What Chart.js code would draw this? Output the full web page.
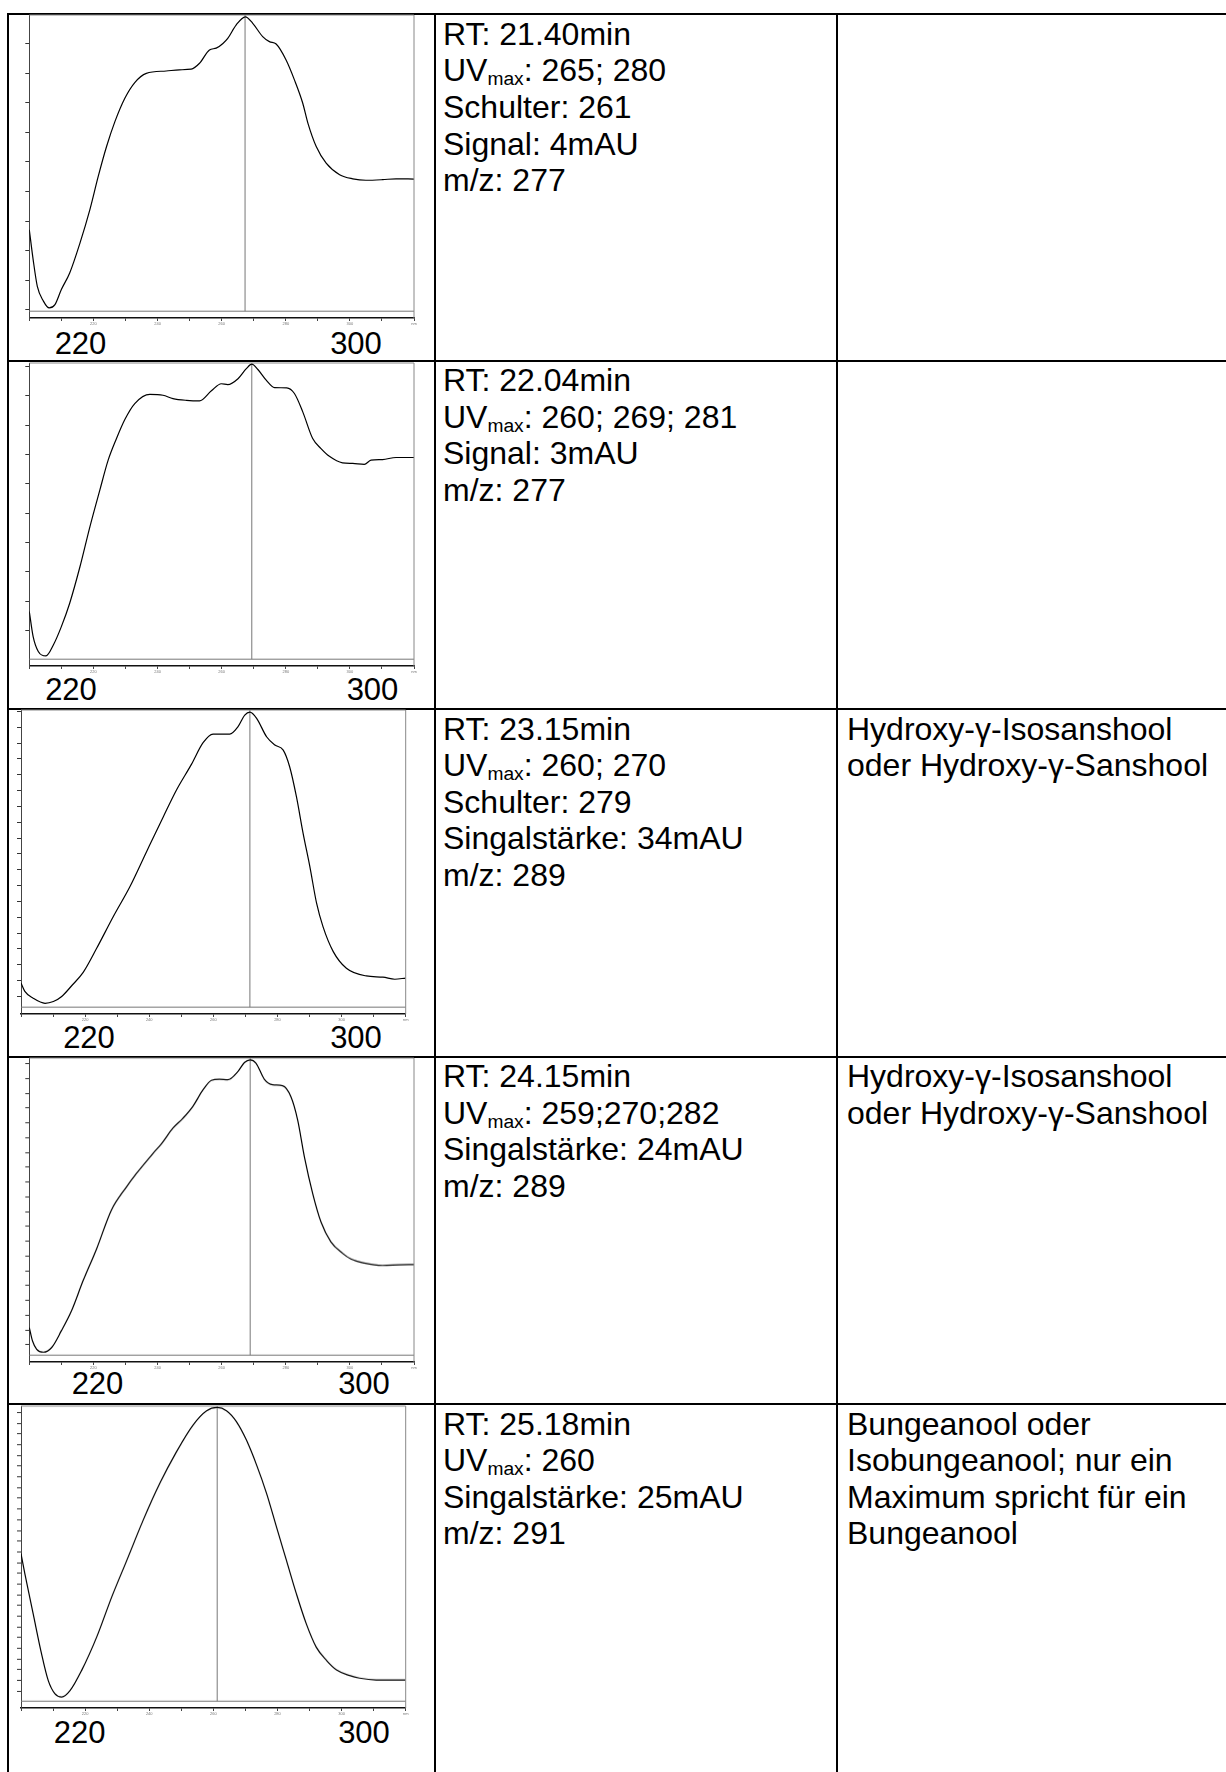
<!DOCTYPE html>
<html><head><meta charset="utf-8">
<script src="https://cdn.jsdelivr.net/npm/chart.js@4.4.1/dist/chart.umd.min.js"></script>
<style>
html,body{margin:0;padding:0;background:#fff;overflow:hidden;}
body{width:1226px;height:1772px;position:relative;font-family:"Liberation Sans",Arial,Helvetica,sans-serif;color:#000;}
.hl{position:absolute;height:2px;background:#000;}
.vl{position:absolute;width:2px;background:#000;}
.txt{position:absolute;font-size:32px;line-height:36.6px;white-space:nowrap;}
.big{position:absolute;font-size:31px;line-height:31px;transform:translate(-50%,-50%);white-space:nowrap;}
canvas{position:absolute;}
sub{font-size:0.6em;line-height:0;vertical-align:-0.22em;}
</style></head>
<body>
<script>
// ---------- DATA ----------
// Spectrum 1 (RT 21.40 min): wavelength (nm) and relative absorbance (%)
const spec1Nm  = [200,201.2,202.5,204.4,206.2,208,210,212.6,215.8,218.9,221.5,224.1,226.7,229.8,232.9,236.5,242.7,246.8,250.5,253.1,256.2,258.3,260.4,261.9,264.5,267.4,269.7,272.8,274.9,277,280.1,282.7,285.3,286.9,289.5,292.6,296.8,300.9,305,310.2,314.4,320];
const spec1Abs = [27.5,17.4,8.4,3.4,1.1,2.2,7.3,12.9,23,34.3,45.5,55.6,64,71.9,77.2,80.3,81.1,81.5,81.7,83.7,88.2,88.8,90.4,92.1,96.6,99.4,97.2,92.7,91,90.2,84.8,78.1,70.2,63.5,55.6,50,46.1,44.7,44.2,44.4,44.7,44.6];
// Spectrum 2 (RT 22.04 min)
const spec2Nm  = [200,201.2,202.8,205.2,207.5,210,212.6,215.8,218.9,222,224.6,227.2,229.8,232.9,237.6,241.7,244.8,249,253.1,256.8,259.9,261.9,265.1,267.7,269.4,271.3,273.9,276.5,280.3,282.7,285.3,288.4,291,293.6,297.7,300.9,304.5,306.6,310.2,314.4,320];
const spec2Abs = [16.1,7.6,2.6,1.1,4.8,11,18.9,31.2,44.7,57.1,67.2,74.5,80.9,86.3,89.4,89.1,88,87.4,87.2,90.6,93,92.7,94.7,98.1,99.6,97.8,94.2,91.7,91.6,89.7,83.5,74.5,71.1,68.5,66.3,66.1,65.8,67.2,67.4,68.1,68.1];
// Spectrum 3 (RT 23.15 min)
const spec3Nm  = [200,201.2,203.8,207.5,210.1,212.7,215.8,219.4,223.6,228.8,234,239.2,244.4,248.5,253.2,256.8,259.9,265.1,267.7,269.8,271.4,273.5,276.6,279.2,281.8,283.8,285.9,288,290.1,292.2,294.2,297.4,301.5,307.7,312.9,316.6,320];
const spec3Abs = [8.1,5.3,3,1.3,1.9,3.6,7.2,11.7,19.8,30.5,40.6,52.4,64.1,73.1,81.8,89,91.9,91.9,94.4,98.3,99.3,97.2,91,88.2,86.5,80.9,70.9,58.5,47.3,35,27.1,18.7,13.1,10.5,10.1,9.4,9.8];
// Spectrum 4 (RT 24.15 min)
const spec4Nm  = [200,201,202.3,204.4,207,210,213.2,216.8,221,225.6,230.3,233.4,238.6,241.2,244.8,247.9,251,254.2,256.8,259.3,261.9,265.1,267.1,268.9,270.7,273.3,275.9,279,281.6,283.7,285.8,288.4,291,294.1,297.7,300.3,304.5,310.2,315.4,320];
const spec4Abs = [9.3,4.8,2,1,2.6,8.2,15,25.1,35.8,48.8,56.6,61.1,67.9,71.1,76.4,79.7,83.7,89.3,92.5,92.9,92.7,95.5,98.5,99.4,98.3,92.9,91,90.7,87,79.2,66.8,54.4,44.8,38.1,34.3,32.4,31,30.2,30.4,30.5];
// Spectrum 5 (RT 25.18 min)
const spec5Nm  = [200,201.2,203.8,206.4,208.5,210.6,212.7,215.3,218.9,223.6,228.3,233,238.1,243.3,248.5,253.7,257.9,261.2,264.1,267.2,270.3,273.5,276.6,279.7,282.8,285.9,289,292.1,295.3,298.4,302.5,305.6,310.8,320];
const spec5Abs = [50,43.2,29.6,16.1,7,2.5,1.4,3.6,10.4,21.7,35.3,47.7,61.3,73.8,84.5,93.6,98.4,99.5,98.4,94.7,88.5,80,70.4,59,47.7,36.4,26.2,18.3,13.8,10.6,8.7,7.8,7.2,7.2];
// Cursor line (marked maximum) per spectrum, nm
const peakNm = [267.3, 269.4, 271.4, 268.9, 261.2];
// Axis tick labels
const xTickLabels = {220:'220', 240:'240', 260:'260', 280:'280', 300:'300', 320:'nm'};
const bigAxisLabels = ['220', '300'];
// Y tick mark positions (relative units)
const yTickStart = [0.5, 9.6, 3.6, 3.5, 3.4];
const yTickStep  = [9.98, 9.92, 5.33, 4.98, 3.63];
// Table text
const col2Lines = [
  ['RT: 21.40min','UV<sub>max</sub>: 265; 280','Schulter: 261','Signal: 4mAU','m/z: 277'],
  ['RT: 22.04min','UV<sub>max</sub>: 260; 269; 281','Signal: 3mAU','m/z: 277'],
  ['RT: 23.15min','UV<sub>max</sub>: 260; 270','Schulter: 279','Singalstärke: 34mAU','m/z: 289'],
  ['RT: 24.15min','UV<sub>max</sub>: 259;270;282','Singalstärke: 24mAU','m/z: 289'],
  ['RT: 25.18min','UV<sub>max</sub>: 260','Singalstärke: 25mAU','m/z: 291']
];
const col3Lines = [
  [],
  [],
  ['Hydroxy-γ-Isosanshool','oder Hydroxy-γ-Sanshool'],
  ['Hydroxy-γ-Isosanshool','oder Hydroxy-γ-Sanshool'],
  ['Bungeanool oder','Isobungeanool; nur ein','Maximum spricht für ein','Bungeanool']
];

// ---------- LAYOUT ----------
const rowTops = [14.3, 360.7, 709, 1056.7, 1404];
const colX = [8.3, 435, 837.3];
const plotLeft = [29.3, 29.3, 21, 29.3, 21];
const plotTop = [15, 362.7, 710, 1058.3, 1406];
const plotBottom = [318.3, 666, 1014, 1361.7, 1707.7];
const plotWidth = 384.7;
const bigPos = [
  [[80.5,342.5],[356,342.5]],
  [[71,689],[372.5,689]],
  [[89,1036.5],[356,1036.5]],
  [[97.5,1383.3],[364,1383.3]],
  [[79.7,1731.5],[364,1731.5]]
];

function el(tag, cls, css, html){
  const e = document.createElement(tag);
  if (cls) e.className = cls;
  Object.assign(e.style, css);
  if (html !== undefined) e.innerHTML = html;
  document.body.appendChild(e);
  return e;
}
// table lines (pixel aligned)
rowTops.forEach(t => el('div','hl',{left:Math.round(colX[0]-1)+'px', top:Math.round(t-1)+'px', width:'1240px'}));
colX.forEach(x => el('div','vl',{left:Math.round(x-1)+'px', top:Math.round(rowTops[0]-1)+'px', height:'1800px'}));
// texts
rowTops.forEach((t,i) => {
  el('div','txt',{left:'443px', top:(t+1.5)+'px'}, col2Lines[i].join('<br>'));
  if (col3Lines[i].length) el('div','txt',{left:'847px', top:(t+1.5)+'px'}, col3Lines[i].join('<br>'));
  bigPos[i].forEach((p,k) => el('div','big',{left:p[0]+'px', top:p[1]+'px'}, bigAxisLabels[k]));
});

const framePlugin = {
  id: 'frame',
  afterDatasetsDraw(chart){
    const {ctx, chartArea:a, scales:{y}} = chart;
    const y0 = y.getPixelForValue(0);
    ctx.save();
    ctx.lineWidth = 1;
    ctx.strokeStyle = '#777';
    ctx.beginPath(); ctx.moveTo(a.left, y0); ctx.lineTo(a.right, y0); ctx.stroke();
    ctx.strokeStyle = '#888';
    ctx.beginPath(); ctx.moveTo(a.left, a.top); ctx.lineTo(a.right, a.top); ctx.lineTo(a.right, a.bottom); ctx.stroke();
    ctx.restore();
  }
};

const specs = [[spec1Nm,spec1Abs],[spec2Nm,spec2Abs],[spec3Nm,spec3Abs],[spec4Nm,spec4Abs],[spec5Nm,spec5Abs]];
const X_AXIS_H = 12, Y_AXIS_W = 4, PAD_TOP = 3;
specs.forEach(([nm, abs], i) => {
  const cw = 420, cl = 10;
  const h = PAD_TOP + (plotBottom[i] - plotTop[i]) + X_AXIS_H;
  const cv = el('canvas', '', {left: cl+'px', top: (plotTop[i]-PAD_TOP)+'px', width: cw+'px', height: h+'px'});
  cv.width = cw; cv.height = h;
  const padL = plotLeft[i] - cl - Y_AXIS_W;
  const padR = cl + cw - (plotLeft[i] + plotWidth);
  new Chart(cv, {
    type: 'line',
    data: {
      datasets: [
        {data: nm.map((x,k)=>({x, y: abs[k]})), borderColor:'#000', borderWidth:1.2, pointRadius:0, cubicInterpolationMode:'monotone', fill:false},
        {data: [{x:peakNm[i], y:0},{x:peakNm[i], y:100}], borderColor:'#777', borderWidth:1, pointRadius:0, fill:false}
      ]
    },
    options: {
      responsive:false, animation:false, devicePixelRatio: window.devicePixelRatio || 1,
      layout:{padding:{left:padL, right:padR, top:PAD_TOP, bottom:0}},
      plugins:{legend:{display:false}, tooltip:{enabled:false}},
      scales:{
        x:{type:'linear', min:200, max:320,
           ticks:{stepSize:10, autoSkip:false, maxRotation:0, padding:0, color:'#777', font:{size:4, family:'Liberation Sans'},
                  callback:(v)=> xTickLabels[v] || ''},
           grid:{drawOnChartArea:false, drawTicks:true, tickLength:3, color:'#444', lineWidth:1},
           border:{display:true, color:'#111', width:1.5},
           afterFit:(s)=>{ s.height = X_AXIS_H; }},
        y:{type:'linear', min:-2.3, max:100,
           ticks:{display:false},
           afterBuildTicks:(s)=>{ const t=[]; for(let v=yTickStart[i]; v<=100; v+=yTickStep[i]) t.push({value:v}); s.ticks=t; },
           grid:{drawOnChartArea:false, drawTicks:true, tickLength:4, color:'#333', lineWidth:1},
           border:{display:true, color:'#444', width:1},
           afterFit:(s)=>{ s.width = Y_AXIS_W; }}
      }
    },
    plugins:[framePlugin]
  });
});
</script>
</body></html>
